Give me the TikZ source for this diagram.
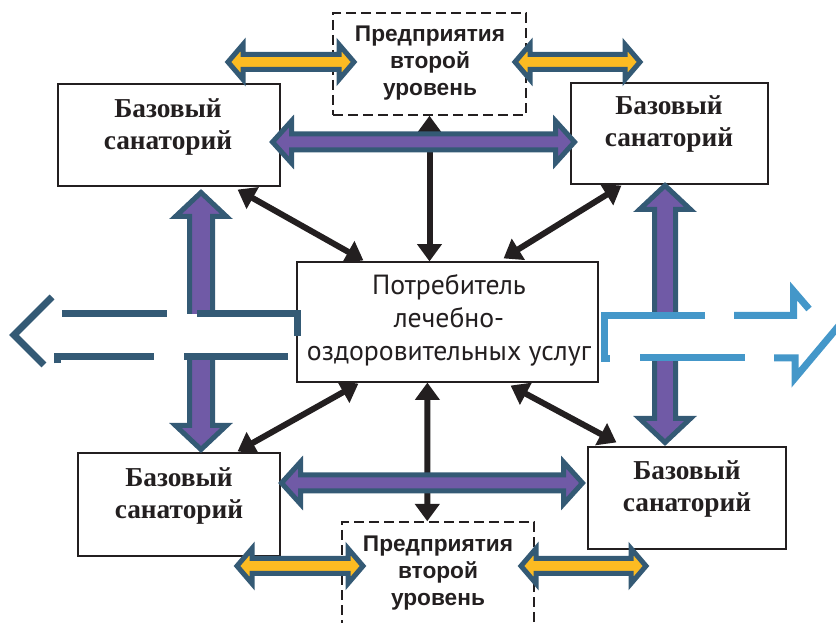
\documentclass[tikz,border=0pt]{standalone}
\usepackage{fontspec}
\usetikzlibrary{arrows.meta,calc}
\newfontfamily\serfam{Liberation Serif}
\newfontfamily\arialfam{Liberation Sans}
\newfontfamily\myrfam{PT Sans}
\newdimen\pxu \pxu=0.75pt
\definecolor{purp}{HTML}{705AA6}
\definecolor{darkb}{HTML}{345A75}
\definecolor{yel}{HTML}{FCBB22}
\definecolor{lblue}{HTML}{4497C9}
\definecolor{ink}{HTML}{231F20}
% #1 style, #2 xL, #3 xR, #4 y, #5 shaft half, #6 head half, #7 head length
\newcommand\hblock[7]{\draw[#1] (#2,#4) -- (#2+#7,#4-#6) -- (#2+#7,#4-#5) -- (#3-#7,#4-#5) -- (#3-#7,#4-#6) -- (#3,#4) -- (#3-#7,#4+#6) -- (#3-#7,#4+#5) -- (#2+#7,#4+#5) -- (#2+#7,#4+#6) -- cycle;}
% #1 style, #2 x, #3 yTop, #4 yBot, #5 shaft half, #6 head half, #7 head length
\newcommand\vblock[7]{\draw[#1] (#2,#3) -- (#2+#6,#3+#7) -- (#2+#5,#3+#7) -- (#2+#5,#4-#7) -- (#2+#6,#4-#7) -- (#2,#4) -- (#2-#6,#4-#7) -- (#2-#5,#4-#7) -- (#2-#5,#3+#7) -- (#2-#6,#3+#7) -- cycle;}
\tikzset{
  sbox/.style={draw=ink, line width=0.9pt, fill=white, inner sep=0pt},
  dbox/.style={draw=ink, line width=1.1pt, dash pattern=on 7.5pt off 3.75pt, inner sep=0pt},
  santext/.style={font=\serfam\bfseries\fontsize{20.5}{24}\selectfont, align=center, text=ink, inner sep=0pt},
  enttext/.style={font=\arialfam\bfseries\fontsize{17}{20.25}\selectfont, align=center, text=ink, inner sep=0pt},
  centext/.style={font=\myrfam\fontsize{20.8}{24.75}\selectfont, align=center, text=ink, inner sep=0pt},
  conn/.style={draw=ink, line width=4.5pt, {Triangle[length=13pt,width=18pt]}-{Triangle[length=13pt,width=18pt]}},
  purparrow/.style={fill=purp, draw=darkb, line width=3.75pt, line join=miter},
  yelarrow/.style={fill=yel, draw=darkb, line width=3.75pt, line join=miter},
  hollowL/.style={draw=darkb, line width=5.25pt, line join=miter},
  hollowR/.style={draw=lblue, line width=5.25pt, line join=miter},
}
\begin{document}
\begin{tikzpicture}[x=0.75pt, y=-0.75pt]
\useasboundingbox (0,0) rectangle (836,623);
\clip (0,0) rectangle (836,623);
% boxes
\node[sbox, minimum width=222\pxu, minimum height=102\pxu] (tl) at (169,135) {};
\node[sbox, minimum width=197\pxu, minimum height=101\pxu] (tr) at (669.5,133.5) {};
\node[sbox, minimum width=198\pxu, minimum height=102\pxu] (br) at (687,498) {};
\node[sbox, minimum width=202\pxu, minimum height=103\pxu] (bl) at (179,504.5) {};
\node[sbox, minimum width=301\pxu, minimum height=120\pxu] (cen) at (447.5,322) {};
% black connectors
\draw[conn] ($(tl.south east)+(-43,3)$) -- ($(cen.north west)+(67,-1)$);
\draw[conn] ($(tr.south west)+(51,1)$) -- ($(cen.north east)+(-95,-3)$);
\draw[conn] ($(bl.north east)+(-43,-1)$) -- ($(cen.south west)+(62,1)$);
\draw[conn] ($(br.north west)+(29,-4)$) -- ($(cen.south east)+(-88,3)$);
\node[dbox, minimum width=193\pxu, minimum height=102\pxu] (top2) at (429.5,64) {};
\node[dbox, minimum width=192\pxu, minimum height=118\pxu] (bot2) at (438,581) {};
\draw[conn] (top2.south) -- (top2.south |- cen.north);
\draw[conn] ($(cen.south west)+(131,0)$) -- ($(bot2.north west)+(86,0)$);
% purple arrows
\hblock{purparrow}{272.5}{574.5}{142}{8}{21}{19}
\hblock{purparrow}{281.5}{582.5}{483}{8}{21}{19}
\vblock{purparrow}{201}{192.5}{449.5}{11.5}{25.5}{24}
\vblock{purparrow}{665}{185.5}{442.5}{10.5}{25.5}{24}
% yellow arrows
\hblock{yelarrow}{228}{354}{62}{7.5}{17.5}{15}
\hblock{yelarrow}{515}{640}{62}{7.5}{17.5}{15}
\hblock{yelarrow}{237}{363}{566}{7.5}{17.5}{15}
\hblock{yelarrow}{521}{646}{566}{7.5}{17.5}{15}
% left hollow arrow
\fill[white] (14,314) rectangle (296,357);
\draw[hollowL] (52,297) -- (14,335) -- (44,365);
\draw[hollowL] (62,314) -- (167,314);
\draw[hollowL] (197,314) -- (297.5,314) -- (297.5,336);
\draw[hollowL] (57,363.5) -- (57,357) -- (154,357);
\draw[hollowL] (184,357) -- (288,357);
% right hollow arrow
\fill[white] (604,315.5) rectangle (836,358);
\draw[hollowR] (705,315.5) -- (604,315.5) -- (604,358.5) -- (610,358.5);
\draw[hollowR] (734,315.5) -- (793.5,315.5) -- (793.5,291) -- (809,309);
\draw[hollowR] (640,358) -- (745,358);
\draw[hollowR] (774,358) -- (795,358) -- (795,378) -- (842,322);
% texts
\node[santext] (tlt) at (168,127) {Базовый\\санаторий};
\node[santext] (trt) at (669,124) {Базовый\\санаторий};
\node[santext] (brt) at (687,489) {Базовый\\санаторий};
\node[santext] (blt) at (179,496) {Базовый\\санаторий};
\node[enttext] (top2t) at (430,63) {Предприятия\\второй\\уровень};
\node[enttext] (bot2t) at (438,573) {Предприятия\\второй\\уровень};
\node[centext] (cent) at (449,320) {Потребитель\\лечебно-\\оздоровительных услуг};
\end{tikzpicture}
\end{document}
